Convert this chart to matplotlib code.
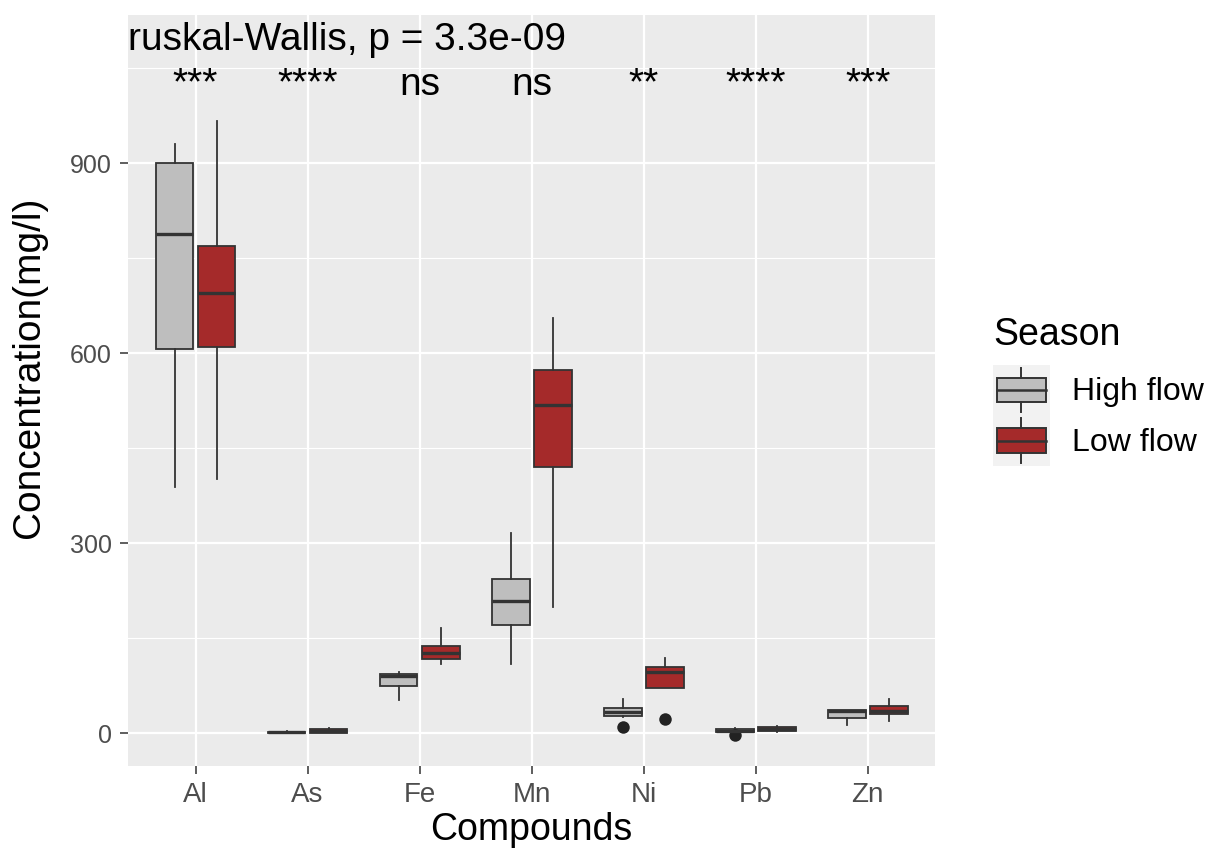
"""
Boxplots of metal concentrations by season (high flow / low flow)
with Kruskal-Wallis result and per-compound significance labels.
Saves out.png.
"""
import matplotlib
matplotlib.use("Agg")
import matplotlib.pyplot as plt
from matplotlib.legend_handler import HandlerBase
from matplotlib.patches import Rectangle
from matplotlib.lines import Line2D
import numpy as np

plt.rcParams['font.family'] = ['Liberation Sans', 'DejaVu Sans']

compounds = ['Al', 'As', 'Fe', 'Mn', 'Ni', 'Pb', 'Zn']
seasons = ['High flow', 'Low flow']

# five-number summaries per compound (whisker low, Q1, median, Q3, whisker high)
high_lo = [388, 0.5, 52, 109, 25, 1, 13]
high_q1 = [607, 1, 74, 171, 27, 2.5, 24]
high_med = [788, 1.5, 90, 209, 33, 4, 35]
high_q3 = [901, 2.5, 93, 243, 40, 7, 37]
high_hi = [930, 3, 97, 316, 54, 8, 37]
high_out = [[], [], [], [], [10], [-2], []]

low_lo = [402, 0, 110, 200, 71, 2, 19]
low_q1 = [610, 1, 117, 421, 71, 3, 31]
low_med = [695, 3, 127, 519, 97, 6, 35]
low_q3 = [769, 7, 137, 573, 104, 10, 43]
low_hi = [966, 9, 166, 655, 119, 12, 54]
low_out = [[], [], [], [], [22], [], []]

sig_labels = ['***', '****', 'ns', 'ns', '**', '****', '***']
kw_text = 'Kruskal-Wallis, p = 3.3e-09'

fill_colors = {'High flow': '#BEBEBE', 'Low flow': '#A52A2A'}
edge = '#333333'


def make_stats(lo, q1, med, q3, hi, out):
    return [dict(whislo=a, q1=b, med=c, q3=d, whishi=e, fliers=f)
            for a, b, c, d, e, f in zip(lo, q1, med, q3, hi, out)]


class BoxKeyHandler(HandlerBase):
    """Legend key drawn like a small boxplot on a light grey background."""
    def create_artists(self, legend, orig_handle, xdescent, ydescent,
                       width, height, fontsize, trans):
        x0, y0 = -xdescent, -ydescent
        bg = Rectangle((x0, y0), width, height, facecolor='#F2F2F2',
                       edgecolor='none', transform=trans)
        bw, bh = width * 0.86, height * 0.48
        bx, by = x0 + (width - bw) / 2, y0 + (height - bh) / 2
        box = Rectangle((bx, by), bw, bh, facecolor=orig_handle.get_facecolor(),
                        edgecolor=edge, lw=1.4, transform=trans)
        cx = bx + bw / 2
        med = Line2D([bx, bx + bw], [by + bh / 2] * 2, color=edge, lw=1.8, transform=trans)
        w1 = Line2D([cx, cx], [by + bh, y0 + height * 0.94], color=edge, lw=1.4, transform=trans)
        w2 = Line2D([cx, cx], [y0 + height * 0.06, by], color=edge, lw=1.4, transform=trans)
        return [bg, box, med, w1, w2]


fig = plt.figure(figsize=(12.08, 8.5), dpi=100)
ax = fig.add_axes([0.1062, 0.0992, 0.6678, 0.8832])
ax.set_facecolor('#EBEBEB')
for s in ax.spines.values():
    s.set_visible(False)

x = np.arange(1, len(compounds) + 1)
dodge = 0.1875
box_w = 0.3375

series = {
    'High flow': make_stats(high_lo, high_q1, high_med, high_q3, high_hi, high_out),
    'Low flow': make_stats(low_lo, low_q1, low_med, low_q3, low_hi, low_out),
}
for k, season in enumerate(seasons):
    ax.bxp(series[season], positions=x + (k * 2 - 1) * dodge, widths=box_w,
           patch_artist=True, showcaps=False, manage_ticks=False,
           boxprops=dict(facecolor=fill_colors[season], edgecolor=edge, linewidth=1.3),
           medianprops=dict(color=edge, linewidth=2.4, solid_capstyle='butt'),
           whiskerprops=dict(color=edge, linewidth=1.3),
           flierprops=dict(marker='o', markerfacecolor='#222222',
                           markeredgecolor='none', markersize=9),
           zorder=3)

ax.set_xlim(0.4, 7.6)
ax.set_ylim(-51.2, 1134)
ax.set_xticks(x)
ax.set_xticklabels(compounds)
ax.set_yticks([0, 300, 600, 900])
ax.set_yticks([150, 450, 750, 1050], minor=True)
ax.grid(True, which='major', color='white', linewidth=1.6, zorder=0)
ax.grid(True, which='minor', axis='y', color='white', linewidth=0.8, zorder=0)
ax.set_axisbelow(True)
ax.tick_params(axis='both', which='major', color=edge, length=6, width=1.1,
               labelcolor='#4D4D4D', pad=6)
ax.tick_params(axis='y', labelsize=18)
ax.tick_params(axis='x', labelsize=20)
ax.tick_params(axis='y', which='minor', length=0)

ax.set_xlabel('Compounds', fontsize=27)
ax.set_ylabel('Concentration(mg/l)', fontsize=28)
ax.xaxis.set_label_coords(0.5, -0.062)
ax.yaxis.set_label_coords(-0.101, 0.53)

# significance labels over each compound
for xi, lab in zip(x, sig_labels):
    ax.text(xi, 1008, lab, fontsize=28, ha='center', va='baseline', color='black')

# Kruskal-Wallis result, left part clipped by the panel
ax.text(0.165, 1078, kw_text, fontsize=28, ha='left', va='baseline',
        color='black', clip_on=True)

# legend: title as its own text, keys below it
fig.text(993 / 1208, 1 - 345 / 850, 'Season', fontsize=27, ha='left', va='baseline')
handles = [Rectangle((0, 0), 1, 1, facecolor=fill_colors[s]) for s in seasons]
fig.legend(handles, seasons, handler_map={Rectangle: BoxKeyHandler()},
           loc='upper left', bbox_to_anchor=(993 / 1208, 1 - 365 / 850),
           frameon=False, fontsize=23,
           handlelength=1.78, handleheight=2.05, labelspacing=0,
           handletextpad=0.7, borderpad=0, borderaxespad=0)

fig.savefig('out.png', dpi=100)
